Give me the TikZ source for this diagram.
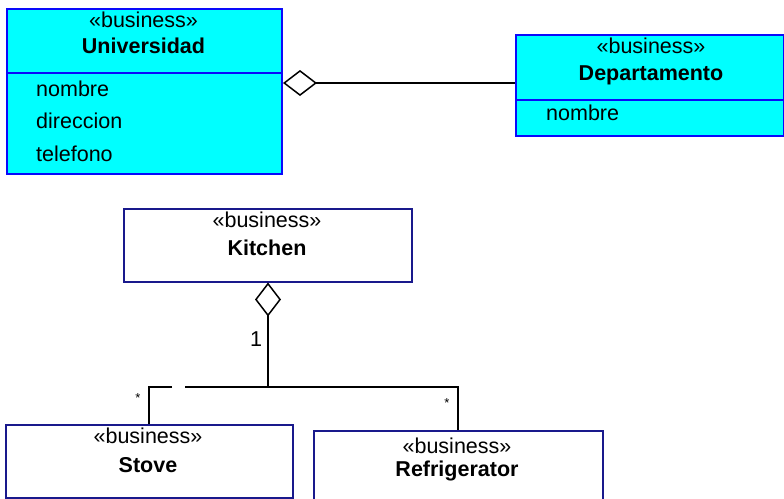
\documentclass[tikz,border=0pt]{standalone}
\usepackage{fontspec}
\setmainfont{Liberation Sans}
\usetikzlibrary{arrows.meta}
\definecolor{clsfill}{RGB}{0,255,255}
\definecolor{clsline}{RGB}{10,10,250}
\definecolor{navyline}{RGB}{25,25,140}
\begin{document}
\begin{tikzpicture}[x=1pt,y=-1pt,
  cyanbox/.style={draw=clsline,fill=clsfill,line width=2pt,rectangle,anchor=north west,inner sep=0pt},
  whitebox/.style={draw=navyline,fill=white,line width=1.5pt,rectangle,anchor=north west,inner sep=0pt},
  txt/.style={font=\fontsize{21.5}{24}\selectfont,inner sep=0pt,anchor=base},
  title/.style={txt,font=\fontsize{21.5}{24}\selectfont\bfseries},
  attr/.style={txt,anchor=base west},
  mult/.style={font=\fontsize{13}{14}\selectfont,inner sep=0pt},
  link/.style={draw=black,line width=1.5pt},
  agg/.style={link,-{Diamond[open,length=34pt,width=26pt,line width=1.5pt]}}]
\useasboundingbox (0,0) rectangle (784,498);
\clip (0,0) rectangle (784,498);

% Universidad class with attribute compartment
\node[cyanbox,minimum width=275pt,minimum height=165pt] (uni) at (6,8) {};
\draw[clsline,line width=2pt] (uni.west |- 0,73) -- (uni.east |- 0,73);
\node[txt] (uniStereo) at (143.5,27) {«business»};
\node[title] (uniName) at (143.5,53) {Universidad};
\node[attr] (uniA1) at (36,96) {nombre};
\node[attr] (uniA2) at (36,128.5) {direccion};
\node[attr] (uniA3) at (36,161) {telefono};

% Departamento class
\node[cyanbox,minimum width=268pt,minimum height=101pt] (dep) at (515,34) {};
\draw[clsline,line width=2pt] (dep.west |- 0,100) -- (dep.east |- 0,100);
\node[txt] (depStereo) at (651,53) {«business»};
\node[title] (depName) at (651,80) {Departamento};
\node[attr] (depA1) at (546,120) {nombre};

% aggregation Universidad <>--- Departamento
\draw[agg] (dep.west |- 0,83) -- (uni.east |- 0,83);

% Kitchen and its parts
\node[whitebox,minimum width=288pt,minimum height=73pt] (kit) at (123,208) {};
\node[txt] (kitStereo) at (267,227) {«business»};
\node[title] (kitName) at (267,255) {Kitchen};

\node[whitebox,minimum width=287pt,minimum height=73pt] (stove) at (5,424) {};
\node[txt] (stoveStereo) at (148,443) {«business»};
\node[title] (stoveName) at (148,472) {Stove};

\node[whitebox,minimum width=289pt,minimum height=90pt] (fridge) at (313,430) {};
\node[txt] (fridgeStereo) at (457,453) {«business»};
\node[title] (fridgeName) at (457,476) {Refrigerator};

% aggregation tree below Kitchen
\coordinate (junc) at (268,387);
\coordinate (gapR) at (185,387);
\coordinate (gapL) at (172,387);
\coordinate (bendS) at (149,387);
\coordinate (bendF) at (458,387);
\draw[agg] (junc) -- (kit.south -| junc);
\draw[link] (junc) -- (gapR);
\draw[link] (gapL) -- (bendS) -- (stove.north -| bendS);
\draw[link] (junc) -- (bendF) -- (fridge.north -| bendF);

\node[txt,anchor=base] (one) at (256,346) {1};
\node[mult] (mS) at (138,398) {*};
\node[mult] (mF) at (447,403) {*};
\end{tikzpicture}
\end{document}
